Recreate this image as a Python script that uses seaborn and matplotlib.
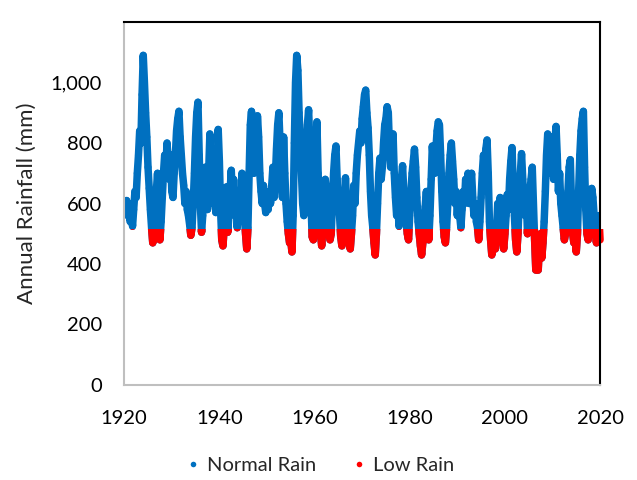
import numpy as np
import pandas as pd
import matplotlib
matplotlib.use("Agg")
from matplotlib import pyplot as plt
import matplotlib.patches as mpatches
from matplotlib.lines import Line2D
import seaborn as sns

# rolling annual rainfall, one value every quarter year
start_year = 1920.5
step = 0.25
rain_1920s = [610, 560,
              600, 540, 560, 525,
              580, 640, 620, 700,
              760, 840, 800, 960,
              1090, 1000, 900, 820,
              720, 650, 580, 520,
              470, 490, 560, 640,
              700, 600, 480, 540,
              620, 700, 760, 720,
              800, 740, 680, 760]
rain_1930s = [640, 620, 700, 760,
              840, 880, 905, 820,
              760, 700, 660, 600,
              640, 580, 560, 530,
              495, 520, 600, 700,
              820, 900, 935, 760,
              600, 505, 560, 650,
              720, 620, 580, 700,
              830, 700, 600, 720,
              640, 570, 700, 845]
rain_1940s = [740, 580, 480, 460,
              520, 600, 655, 505,
              560, 640, 710, 620,
              680, 560, 600, 520,
              580, 640, 600, 700,
              620, 560, 500, 450,
              520, 700, 860, 905,
              780, 700, 860, 720,
              890, 820, 700, 640,
              600, 660, 600, 570]
rain_1950s = [620, 580, 640, 600,
              660, 720, 620, 680,
              780, 860, 900, 800,
              700, 620, 820, 700,
              600, 540, 500, 470,
              480, 440, 560, 800,
              1000, 1090, 1040, 900,
              800, 700, 600, 560,
              680, 760, 860, 910,
              800, 600, 490, 480]
rain_1960s = [600, 780, 870, 700,
              600, 500, 460, 520,
              600, 680, 640, 560,
              520, 480, 500, 600,
              700, 760, 790, 680,
              600, 560, 490, 460,
              510, 600, 685, 600,
              540, 480, 450, 500,
              560, 660, 600, 700,
              760, 800, 840, 800]
rain_1970s = [880, 920, 960, 975,
              900, 850, 760, 640,
              560, 520, 470, 430,
              500, 600, 700, 750,
              680, 720, 800, 860,
              880, 920, 900, 780,
              720, 800, 830, 700,
              620, 560, 600, 525,
              600, 680, 725, 640,
              600, 540, 500, 480]
rain_1980s = [560, 640, 700, 740,
              780, 720, 620, 540,
              500, 460, 430, 470,
              520, 590, 640, 560,
              480, 560, 680, 790,
              740, 700, 780, 840,
              870, 860, 760, 640,
              540, 490, 470, 520,
              600, 700, 760, 800,
              740, 680, 600, 640]
rain_1990s = [560, 620, 560, 520,
              580, 640, 600, 680,
              640, 700, 600, 660,
              700, 620, 560, 600,
              540, 520, 480, 540,
              620, 700, 760, 720,
              780, 810, 700, 540,
              480, 430, 460, 500,
              450, 520, 600, 560,
              620, 540, 480, 450]
rain_2000s = [500, 560, 630, 580,
              680, 740, 785, 660,
              560, 480, 440, 500,
              600, 700, 765, 680,
              600, 560, 620, 500,
              560, 640, 680, 720,
              600, 480, 380, 420,
              380, 460, 500, 420,
              470, 540, 640, 760,
              830, 780, 700, 820]
rain_2010s = [760, 680, 800, 855,
              760, 640, 700, 600,
              560, 520, 480, 500,
              560, 640, 720, 745,
              600, 500, 470, 520,
              440, 500, 640, 760,
              840, 880, 905, 720,
              580, 500, 480, 540,
              600, 650, 620, 560,
              500, 470, 520, 560]
rain_2020 = [480]

low_limit = 510
series_labels = ["Normal Rain", "Low Rain"]
series_colors = ["#0070C0", "#FF0000"]
x_ticks = [1920, 1940, 1960, 1980, 2000, 2020]
y_ticks = [0, 200, 400, 600, 800, 1000]
y_tick_labels = ["0", "200", "400", "600", "800", "1,000"]

rain = (rain_1920s + rain_1930s + rain_1940s + rain_1950s + rain_1960s +
        rain_1970s + rain_1980s + rain_1990s + rain_2000s + rain_2010s + rain_2020)
years = start_year + step * np.arange(len(rain))
df = pd.DataFrame({"year": years, "rain": rain})
df["type"] = np.where(df["rain"] < low_limit, series_labels[1], series_labels[0])

sns.set_style("white")
plt.rcParams["font.family"] = ["Lato", "DejaVu Sans"]

fig = plt.figure(figsize=(6.37, 4.8), dpi=100)
ax = fig.add_axes([0.195, 0.198, 0.747, 0.756])

sns.lineplot(data=df, x="year", y="rain", color=series_colors[0], lw=5.4,
             solid_capstyle="round", solid_joinstyle="round", ax=ax)
sns.lineplot(data=df, x="year", y="rain", color=series_colors[1], lw=5.4,
             solid_capstyle="round", solid_joinstyle="round", ax=ax)
clip = mpatches.Rectangle((1900, -100), 200, low_limit + 105, transform=ax.transData)
ax.lines[-1].set_clip_path(clip)
sns.scatterplot(data=df, x="year", y="rain", hue="type", hue_order=series_labels,
                palette=series_colors, s=26, edgecolor="none", legend=False, ax=ax)

ax.set_xlim(1920, 2020)
ax.set_ylim(0, 1200)
ax.set_xticks(x_ticks)
ax.set_yticks(y_ticks)
ax.set_yticklabels(y_tick_labels)
ax.set_xlabel("")
ax.set_ylabel("Annual Rainfall (mm)", fontsize=16, labelpad=10)
ax.tick_params(axis="both", direction="in", length=5, width=1.2, color="#BFBFBF",
               labelsize=14.5, labelcolor="black")
ax.tick_params(axis="x", pad=18)
ax.tick_params(axis="y", pad=16)

for side in ["left", "bottom"]:
    ax.spines[side].set_color("#BFBFBF")
    ax.spines[side].set_linewidth(1.5)
for side in ["top", "right"]:
    ax.spines[side].set_color("black")
    ax.spines[side].set_linewidth(1.5)

handles = [Line2D([], [], ls="none", marker="o", markersize=4,
                  markerfacecolor=c, markeredgecolor="none") for c in series_colors]
fig.legend(handles, series_labels, loc="lower center", bbox_to_anchor=(0.5, -0.025),
           ncol=2, frameon=False, fontsize=14.5, handletextpad=0.2,
           columnspacing=1.6, handlelength=1.0)

fig.savefig("out.png", dpi=100)
